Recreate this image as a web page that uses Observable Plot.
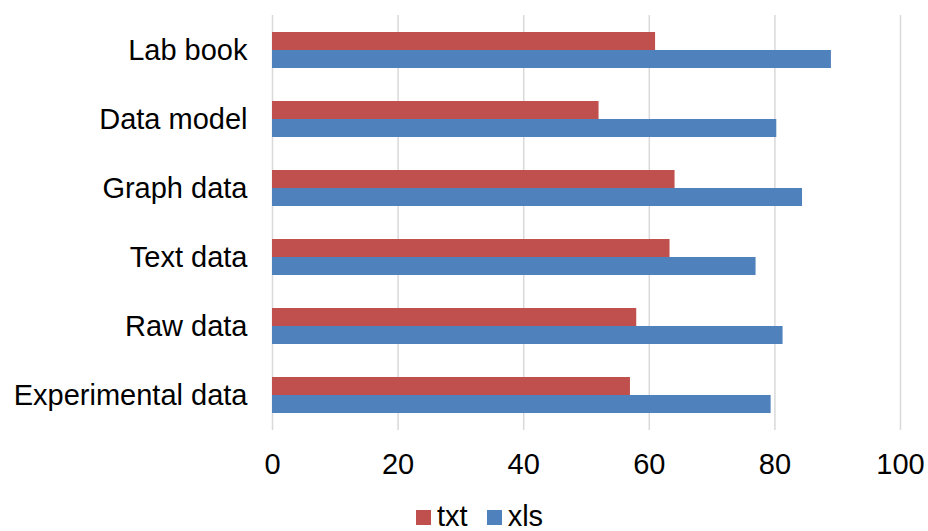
<!DOCTYPE html>
<html>
<head>
<meta charset="utf-8">
<script src="https://cdn.jsdelivr.net/npm/d3@7"></script>
<script src="https://cdn.jsdelivr.net/npm/@observablehq/plot@0.6"></script>
<style>
  html, body { margin: 0; padding: 0; background: #fff; }
  #chart { width: 928px; }
  .legend { font-family: "Liberation Sans", Arial, sans-serif; font-size: 29px; color: #000;
            margin-left: 416px; margin-top: 0px; white-space: nowrap; line-height: 32px; }
  .legend .sw { display: inline-block; width: 15px; height: 15px; margin-right: 6px; vertical-align: 1px; }
  .legend .item { margin-right: 19px; }
</style>
</head>
<body>
<div id="chart"></div>
<script>
const categories = ["Lab book", "Data model", "Graph data", "Text data", "Raw data", "Experimental data"];
const txtValues = [61.0, 52.0, 64.1, 63.3, 58.0, 57.0];
const xlsValues = [89.0, 80.3, 84.4, 77.0, 81.3, 79.4];
const seriesNames = ["txt", "xls"];
const seriesColors = ["#C0504D", "#4F81BD"];
const xTicks = [0, 20, 40, 60, 80, 100];

const txtData = categories.map((c, i) => ({category: c, value: txtValues[i]}));
const xlsData = categories.map((c, i) => ({category: c, value: xlsValues[i]}));

const plot = Plot.plot({
  width: 928,
  height: 500,
  marginLeft: 272,
  marginRight: 28,
  marginTop: 15,
  marginBottom: 70,
  style: {fontFamily: "'Liberation Sans', Arial, sans-serif", fontSize: "29px", color: "#000", background: "#fff"},
  x: {domain: [0, 100], ticks: xTicks, tickSize: 0, tickPadding: 23, label: null},
  y: {domain: categories, paddingInner: 0.48, paddingOuter: 0.24, tickSize: 0, tickPadding: 25, label: null},
  marks: [
    Plot.ruleX(xTicks, {stroke: "#d9d9d9", strokeWidth: 1.5}),
    Plot.barX(txtData, {x: "value", y: "category", fill: seriesColors[0], insetBottom: 18}),
    Plot.barX(xlsData, {x: "value", y: "category", fill: seriesColors[1], insetTop: 18})
  ]
});
document.getElementById("chart").appendChild(plot);

const legend = document.createElement("div");
legend.className = "legend";
seriesNames.forEach((name, i) => {
  const item = document.createElement("span");
  item.className = "item";
  const sw = document.createElement("span");
  sw.className = "sw";
  sw.style.background = seriesColors[i];
  item.appendChild(sw);
  item.appendChild(document.createTextNode(name));
  legend.appendChild(item);
});
document.getElementById("chart").appendChild(legend);
</script>
</body>
</html>
